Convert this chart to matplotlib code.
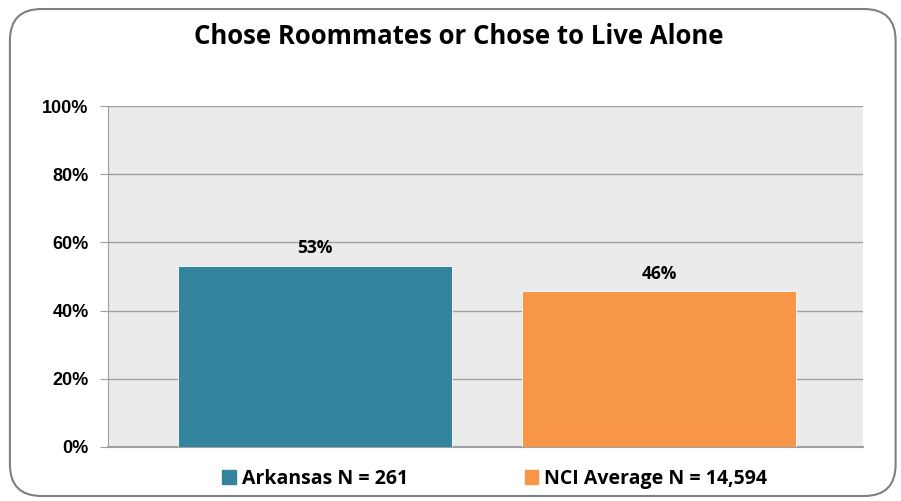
import matplotlib.pyplot as plt
from matplotlib.patches import FancyBboxPatch, Rectangle
from matplotlib.ticker import PercentFormatter

# Data
groups = ["Arkansas N = 261", "NCI Average N = 14,594"]
values = [53.1, 45.7]
labels = ["53%", "46%"]
colors = ["#33849C", "#F79646"]
yticks = [0, 20, 40, 60, 80, 100]

plt.rcParams['font.family'] = ['Liberation Sans', 'DejaVu Sans']

fig = plt.figure(figsize=(9.01, 5.01), dpi=100)
fig.patch.set_facecolor('white')

# rounded outer frame
frame = FancyBboxPatch((0.011, 0.010), 0.983, 0.972,
                       boxstyle="round,pad=0,rounding_size=0.035",
                       transform=fig.transFigure, facecolor='none',
                       edgecolor='#7F7F7F', linewidth=1.5, zorder=5,
                       mutation_aspect=901 / 501)
fig.patches.append(frame)

ax = fig.add_axes([0.1199, 0.1078, 0.8379, 0.6806])
ax.set_facecolor('#EBEBEB')

x = [0, 1]
bars = ax.bar(x, values, width=0.796, color=colors, edgecolor='white',
              linewidth=0.6, zorder=3)

for xi, v, lab in zip(x, values, labels):
    ax.text(xi, v + 2.5, lab, ha='center', va='bottom', fontsize=12.5,
            fontweight='bold', family=['Open Sans', 'DejaVu Sans'])

ax.set_xlim(-0.601, 1.592)
ax.set_ylim(0, 100)
ax.set_yticks(yticks)
ax.yaxis.set_major_formatter(PercentFormatter(decimals=0))
ax.set_xticks([])
ax.grid(axis='y', color='#A0A0A0', linewidth=1.0, zorder=1)
ax.set_axisbelow(True)

for s in ['top', 'right']:
    ax.spines[s].set_visible(False)
ax.spines['left'].set_color('#A0A0A0')
ax.spines['bottom'].set_color('#A0A0A0')
ax.spines['bottom'].set_linewidth(1.5)
ax.tick_params(axis='y', length=6, color='#A0A0A0', pad=8, labelsize=13)
for t in ax.get_yticklabels():
    t.set_fontweight('bold')

fig.text(0.509, 0.928, "Chose Roommates or Chose to Live Alone", ha='center',
         va='center', fontsize=18.5, fontweight='bold',
         family=['Open Sans', 'DejaVu Sans'])

# legend
handles = [Rectangle((0, 0), 1, 1, color=c) for c in colors]
fig.legend(handles, groups, loc='center', bbox_to_anchor=(0.549, 0.044),
           ncol=2, frameon=False, handlelength=0.7, handleheight=0.7,
           handletextpad=0.3, columnspacing=6.0,
           prop={'family': ['Open Sans', 'DejaVu Sans'], 'weight': 'bold',
                 'size': 14})

fig.savefig('out.png', dpi=100)
